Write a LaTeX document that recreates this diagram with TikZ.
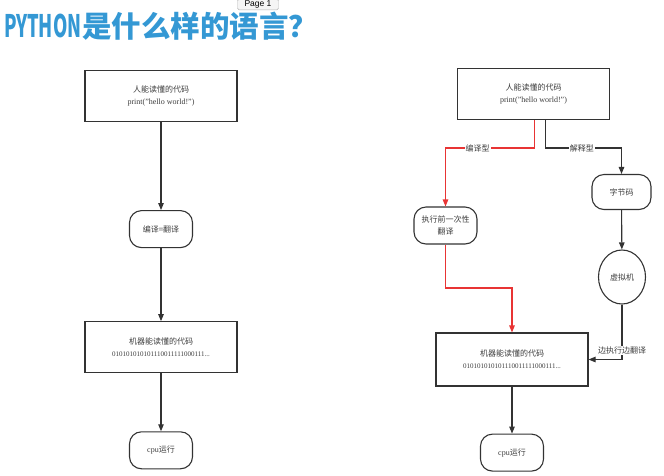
\documentclass[tikz,border=0pt]{standalone}
\usepackage{fontspec}
\setmainfont{Liberation Serif}
\newfontfamily\cjk{Noto Sans CJK SC}
\newfontfamily\tipfont{Liberation Sans}
\usepackage{xcolor}
\usepackage{tikz}
\usetikzlibrary{shapes.geometric, arrows.meta, positioning, calc}

\definecolor{titleblue}{RGB}{52,152,212}
\definecolor{pyred}{RGB}{232,52,52}
\definecolor{inkgray}{RGB}{60,60,60}
\newcommand{\zh}[1]{{\cjk #1}}
\newcommand{\codefont}{\fontsize{8}{12}\selectfont\color{inkgray}}

\begin{document}
\begin{tikzpicture}[
    x=1pt, y=-1pt,
    node distance=88pt,
    codebox/.style={draw=black!80, line width=1.1pt, minimum width=152pt, minimum height=51pt, align=center, font=\codefont},
    roundbox/.style={draw=black!80, line width=1.1pt, rounded corners=12pt, minimum width=63pt, minimum height=37pt, align=center, font=\codefont},
    vmnode/.style={draw=black!80, ellipse, line width=1.1pt, minimum width=47pt, minimum height=54pt, inner sep=0pt, font=\codefont},
    arrow/.style={-{Triangle[length=7pt,width=5.5pt]}, line width=1.1pt, draw=black!80},
    redarrow/.style={arrow, draw=pyred},
    lbl/.style={fill=white, inner sep=1pt, font=\codefont},
    tip/.style={draw=gray!60, fill=gray!8, rounded corners=1.5pt, font=\tipfont\fontsize{8.5}{9}\selectfont, inner xsep=7pt, inner ysep=1.5pt},
]
\useasboundingbox (0,0) rectangle (664,475);

% title
\node[anchor=west, text=titleblue, font=\cjk\bfseries\fontsize{29.5}{31}\selectfont, inner sep=0pt] (title) at (4,26) {\scalebox{0.62}[1.05]{PYTHON}\hspace{1pt}是什么样的语言？};
\node[tip, anchor=south] (page) at (258,10) {Page 1};

% left: compiled only
\node[codebox] (hc1) at (161,96) {\zh{人能读懂的代码}\\print("hello world!")};
\node[roundbox, below=88pt of hc1] (tr1) {\zh{编译=翻译}};
\node[codebox, below=73pt of tr1] (mc1) {\zh{机器能读懂的代码}\\\fontsize{7}{12}\selectfont 010101010101110011111000111...};
\node[roundbox, below=58pt of mc1] (cpu1) {cpu\zh{运行}};

\draw[arrow] (hc1) -- (tr1);
\draw[arrow] (tr1) -- (mc1);
\draw[arrow] (mc1) -- (cpu1);

% right: compiled vs interpreted
\node[codebox] (hc2) at (533.5,94) {\zh{人能读懂的代码}\\print("hello world!")};
\node[roundbox] (pre) at (445.5,225.5) {\zh{执行前一次性}\\\zh{翻译}};
\node[roundbox, minimum width=59pt, minimum height=35pt] (byte) at (621.5,192) {\zh{字节码}};
\node[vmnode] (vm) at (622,277) {\zh{虚拟机}};
\node[codebox, minimum height=53pt] (mc2) at (512,359.5) {\zh{机器能读懂的代码}\\\fontsize{7}{12}\selectfont 010101010101110011111000111...};
\node[roundbox, below=47pt of mc2] (cpu2) {cpu\zh{运行}};

\draw[redarrow] ([xshift=1pt]hc2.south) -- ([xshift=1pt]hc2.south |- 0,148) -| node[lbl, pos=0.32] {\zh{编译型}} (pre.north);
\draw[arrow] ([xshift=12pt]hc2.south) -- ([xshift=12pt]hc2.south |- 0,148) -| node[lbl, pos=0.24] {\zh{解释型}} (byte.north);
\draw[redarrow] (pre.south) -- (pre.south |- 0,288) -| (mc2.north);
\draw[arrow] (byte) -- (vm);
\draw[arrow] (vm.south) |- node[lbl, pos=0.42] {\zh{边执行边翻译}} (mc2.east);
\draw[arrow] (mc2) -- (cpu2);
\end{tikzpicture}
\end{document}
